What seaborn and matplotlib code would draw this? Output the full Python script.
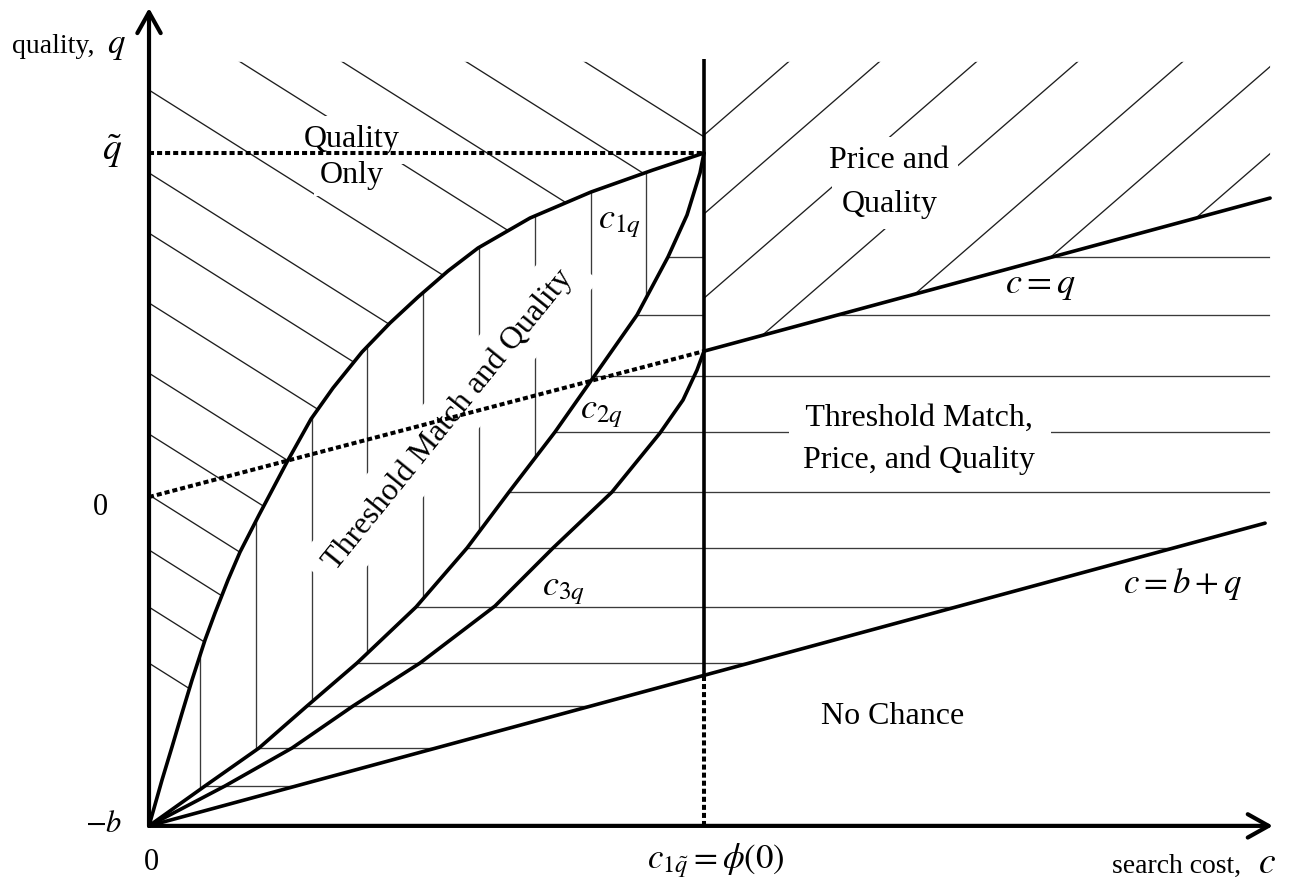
import numpy as np
import pandas as pd
import matplotlib
matplotlib.use("Agg")
import matplotlib.pyplot as plt
from matplotlib.patches import Polygon
import seaborn as sns

# ---------------- data (c = search cost, q = quality) ----------------
b = 0.956            # so that the origin of the diagram is q = -b
q_tilde = 1.0        # level q~
c_star = 1.0         # c_{1 q~} = phi(0)

c1q_c = [0.0, 0.0234, 0.0414, 0.0595, 0.0775, 0.1009, 0.1189, 0.1423, 0.164, 0.1982,
         0.2486, 0.2919, 0.3315, 0.3838, 0.4342, 0.4847, 0.5387, 0.5928, 0.6865, 0.7964,
         0.9081, 1.0]
c1q_q = [-0.956, -0.8227, -0.7267, -0.6279, -0.532, -0.4157, -0.3372, -0.2413, -0.1599, -0.0523,
         0.1017, 0.2267, 0.3169, 0.4215, 0.5058, 0.5814, 0.657, 0.7238, 0.811, 0.8866,
         0.9506, 1.0]

c2q_c = [0.0, 0.1009, 0.1982, 0.2847, 0.3748, 0.4811, 0.573, 0.6486, 0.7315, 0.8036,
         0.8793, 0.9351, 0.9694, 0.9928, 1.0]
c2q_q = [-0.956, -0.840, -0.7297, -0.6076, -0.4826, -0.3198, -0.1483, 0.0145, 0.189, 0.3547,
         0.5291, 0.6977, 0.8198, 0.9419, 1.0]

c3q_c = [0.0, 0.1369, 0.2577, 0.3676, 0.4883, 0.6234, 0.7279, 0.8342, 0.9207, 0.9622,
         0.9874, 1.0]
c3q_q = [-0.956, -0.840, -0.7297, -0.6076, -0.4826, -0.3169, -0.1483, 0.0145, 0.186, 0.282,
         0.369, 0.424]

cq_c = [0.0, 1.0, 2.02]          # line c = q  (dotted left of c_star, solid right of it)
cq_q = [0.0, 0.424, 0.869]
cbq_c = [0.0, 2.011]             # line c = b + q
cbq_q = [-0.956, -0.076]

# ---------------- style / layout constants ----------------
C_MIN, C_MAX = -0.2685, 2.0595
Q_MIN, Q_MAX = -1.1424, 1.4448
TOP = 1.265          # upper end of the hatching
RIGHT = 2.02         # right end of the hatching
DESC_K = [2.063, 1.846, 1.619, 1.432, 1.183, 0.942, 0.767, 0.564, 0.360, 0.183,
          0.006, -0.154, -0.320, -0.483]
ASC_K = [1.052, 0.823, 0.578, 0.323, 0.058, -0.177, -0.430]
VERT_C = 0.092 + 0.1005 * np.arange(9)
HORIZ_Q = [0.698, 0.529, 0.352, 0.189, 0.0145, -0.148, -0.320, -0.483, -0.608, -0.730, -0.840]

sns.set_theme(style="white")
plt.rcParams["font.family"] = ["Liberation Serif", "DejaVu Serif"]
plt.rcParams["mathtext.fontset"] = "stix"
plt.rcParams["text.color"] = "black"

fig = plt.figure(figsize=(12.92, 8.90), dpi=100)
ax = fig.add_axes([0, 0, 1, 1])
ax.set_xlim(C_MIN, C_MAX)
ax.set_ylim(Q_MIN, Q_MAX)
ax.axis("off")

q0 = -b
cq_at = lambda c: np.interp(c, cq_c, cq_q)
cbq_at = lambda c: np.interp(c, cbq_c, cbq_q)


def region(points):
    p = Polygon(points, closed=True, transform=ax.transData, fc="none", ec="none")
    ax.add_patch(p)
    return p


c1 = list(zip(c1q_c, c1q_q))
c2 = list(zip(c2q_c, c2q_q))

desc_poly = region([(0, TOP), (c_star, TOP), (c_star, q_tilde)] + c1[::-1])
asc_poly = region([(c_star, TOP), (RIGHT, TOP), (RIGHT, cq_at(RIGHT)), (c_star, cq_at(c_star))])
vert_poly = region(c1 + c2[::-1])
horiz_poly = region(c2 + [(c_star, cq_at(c_star)), (RIGHT, cq_at(RIGHT)), (RIGHT, cbq_at(RIGHT))])

HC = "#1e1e1e"
HLW = 0.95
xs = np.array([-0.5, 2.5])
for k in DESC_K:
    ln, = ax.plot(xs, k - 1.016 * xs, color=HC, lw=HLW, zorder=1)
    ln.set_clip_path(desc_poly)
for k in ASC_K:
    ln, = ax.plot(xs, k + 1.40 * (xs - c_star), color=HC, lw=HLW, zorder=1)
    ln.set_clip_path(asc_poly)
for c in VERT_C:
    ln, = ax.plot([c, c], [Q_MIN, Q_MAX], color="#3a3a3a", lw=HLW, zorder=1)
    ln.set_clip_path(vert_poly)
for q in HORIZ_Q:
    ln, = ax.plot([0, 2.5], [q, q], color="#3a3a3a", lw=HLW, zorder=1)
    ln.set_clip_path(horiz_poly)

# ---------------- region labels ----------------
FS = 23
wbox = dict(boxstyle="square,pad=0.3", fc="white", ec="none")
ax.text(0.366, 1.017, "Quality", ha="center", va="baseline", fontsize=FS, zorder=2, bbox=wbox)
ax.text(0.366, 0.913, "Only", ha="center", va="baseline", fontsize=FS, zorder=2,
        bbox=dict(boxstyle="square,pad=0.2", fc="white", ec="none"))
ax.text(1.333, 0.956, "Price and", ha="center", va="baseline", fontsize=FS, zorder=2, bbox=wbox)
ax.text(1.334, 0.828, "Quality", ha="center", va="baseline", fontsize=FS, zorder=2, bbox=wbox)
ax.text(1.389, 0.206, " Threshold Match, ", ha="center", va="baseline", fontsize=FS, zorder=2, bbox=wbox)
ax.text(1.387, 0.084, "Price, and Quality", ha="center", va="baseline", fontsize=FS, zorder=2)
ax.text(1.340, -0.660, "No Chance", ha="center", va="baseline", fontsize=FS, zorder=2)
ax.text(0.539, 0.224, "Threshold Match and Quality", rotation=51, rotation_mode="anchor",
        ha="center", va="center", fontsize=FS, zorder=2,
        bbox=dict(boxstyle="square,pad=0.45", fc="white", ec="none"))

# ---------------- boundary curves ----------------
LW = 2.6
curves = pd.concat([
    pd.DataFrame({"c": c1q_c, "q": c1q_q, "curve": "c1q"}),
    pd.DataFrame({"c": c2q_c, "q": c2q_q, "curve": "c2q"}),
    pd.DataFrame({"c": c3q_c, "q": c3q_q, "curve": "c3q"}),
    pd.DataFrame({"c": cbq_c, "q": cbq_q, "curve": "c=b+q"}),
    pd.DataFrame({"c": cq_c[1:], "q": cq_q[1:], "curve": "c=q"}),
], ignore_index=True)
sns.lineplot(data=curves, x="c", y="q", units="curve", estimator=None, sort=False,
             color="black", lw=LW, ax=ax, zorder=3, legend=False,
             solid_joinstyle="round", solid_capstyle="round")

# vertical boundary c = c_{1q~}
ax.plot([c_star, c_star], [cbq_at(c_star), 1.273], color="black", lw=LW, zorder=3,
        solid_capstyle="butt")
DOT = (0, (1.25, 0.75))
ax.plot([c_star, c_star], [q0, cbq_at(c_star)], color="black", lw=2.9, ls=DOT, zorder=3)
ax.plot([0, c_star], [q_tilde, q_tilde], color="black", lw=2.9, ls=DOT, zorder=3)
ax.plot(cq_c[:2], cq_q[:2], color="black", lw=2.9, ls=DOT, zorder=3)

# ---------------- axes with arrows ----------------
arrow = dict(arrowstyle="->,head_length=0.75,head_width=0.42", lw=3.0, color="black",
             shrinkA=0, shrinkB=0, mutation_scale=20)
ax.annotate("", xy=(2.025, q0), xytext=(0, q0), arrowprops=arrow, zorder=4)
ax.annotate("", xy=(0, 1.4215), xytext=(0, q0), arrowprops=arrow, zorder=4)

# ---------------- axis labels / ticks ----------------
ax.text(-0.2468, 1.2907, "quality,", ha="left", va="baseline", fontsize=20)
ax.text(-0.0757, 1.2907, "$q$", ha="left", va="baseline", fontsize=25)
ax.text(1.735, -1.093, "search cost,", ha="left", va="baseline", fontsize=20)
ax.text(1.998, -1.093, "$c$", ha="left", va="baseline", fontsize=27)
ax.text(-0.0847, 0.98, r"$\tilde{q}$", ha="left", va="baseline", fontsize=27)
ax.text(-0.101, -0.0523, "0", ha="left", va="baseline", fontsize=22)
ax.text(-0.1153, -0.974, "$-b$", ha="left", va="baseline", fontsize=22)
ax.text(0.0036, -1.084, "0", ha="center", va="baseline", fontsize=22)
ax.text(0.897, -1.078, r"$c_{1\tilde{q}} = \phi(0)$", ha="left", va="baseline", fontsize=25)

# ---------------- curve labels ----------------
FM = 26
ax.text(0.809, 0.782, "$c_{1q}$", ha="left", va="baseline", fontsize=FM, zorder=2)
ax.text(0.7766, 0.2297, "$c_{2q}$", ha="left", va="baseline", fontsize=FM, zorder=2)
ax.text(0.7081, -0.2849, "$c_{3q}$", ha="left", va="baseline", fontsize=FM, zorder=2)
ax.text(1.5423, 0.593, "$c = q$", ha="left", va="baseline", fontsize=FM, zorder=2)
ax.text(1.755, -0.279, "$c = b + q$", ha="left", va="baseline", fontsize=25, zorder=2)

fig.savefig("out.png", dpi=100, facecolor="white")
